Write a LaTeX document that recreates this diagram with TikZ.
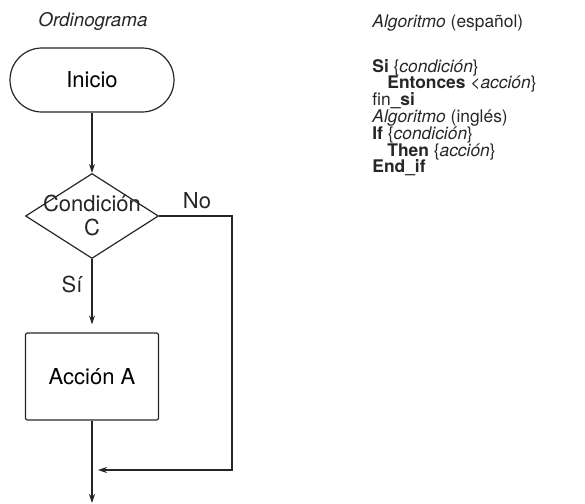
\documentclass[tikz,border=0pt]{standalone}
\usepackage{fontspec}
\setmainfont{TeX Gyre Heros}
\usetikzlibrary{shapes.geometric,arrows.meta}

\begin{document}
\begin{tikzpicture}[x=0.5pt,y=-0.5pt,
	linea/.style={line width=0.6pt, draw=black!85},
	flecha/.style={linea, -{Stealth[length=4.5pt,width=3pt]}},
	caja/.style={linea, draw, font=\fontsize{11}{12}\selectfont},
	rotulo/.style={font=\fontsize{11}{12}\selectfont, text=black!85},
	pseudo/.style={anchor=base west, inner sep=0pt, text=black!85, font=\fontsize{8.7}{10}\selectfont}]
	\useasboundingbox (0,0) rectangle (585,504);
	
	\node[anchor=base, inner sep=0pt, font=\itshape\fontsize{9.4}{11}\selectfont, text=black!85] (titulo) at (93,26) {Ordinograma};
	\node[caja, rounded corners=16pt, minimum width=82pt, minimum height=32pt] (inicio) at (92,80) {Inicio};
	\node[caja, diamond, minimum width=66.5pt, minimum height=42.5pt, inner sep=0pt] (cond) at (92,216) {};
	\node[rotulo, align=center, inner sep=0pt] (condtexto) at (92,215) {Condición\\C};
	\node[caja, rounded corners=1pt, minimum width=66.5pt, minimum height=43.5pt] (accion) at (92,376.5) {Acción A};
	\coordinate (union) at (92,470);
	\coordinate (esquina) at (232,470);
	\coordinate (salida) at (92,503);
	
	\draw[flecha] (inicio) -- (cond);
	\draw[flecha, shorten >=4pt] (cond) -- (accion);
	\draw[flecha] (accion) -- (salida);
	\draw[flecha] (cond.east) -| (esquina) -- ([xshift=3pt]union);
	
	\node[rotulo] (no) at (197,201) {No};
	\node[rotulo] (si) at (72,284) {Sí};
	
	\node[pseudo] (algesp) at (372,27) {\textit{Algoritmo} (español)};
	\foreach \texto [count=\i] in {
		{\textbf{Si} \{\textit{condición}\}},
		{\hspace*{7.5pt}\textbf{Entonces} <\textit{acción}\}},
		{fin\textbf{\_si}},
		{\textit{Algoritmo} (inglés)},
		{\textbf{If} \{\textit{condición}\}},
		{\hspace*{7.5pt}\textbf{Then} \{\textit{acción}\}},
		{\textbf{End\_if}}}
		\node[pseudo] (linea\i) at (372,72+16.8*\i-16.8) {\texto};
\end{tikzpicture}
\end{document}
